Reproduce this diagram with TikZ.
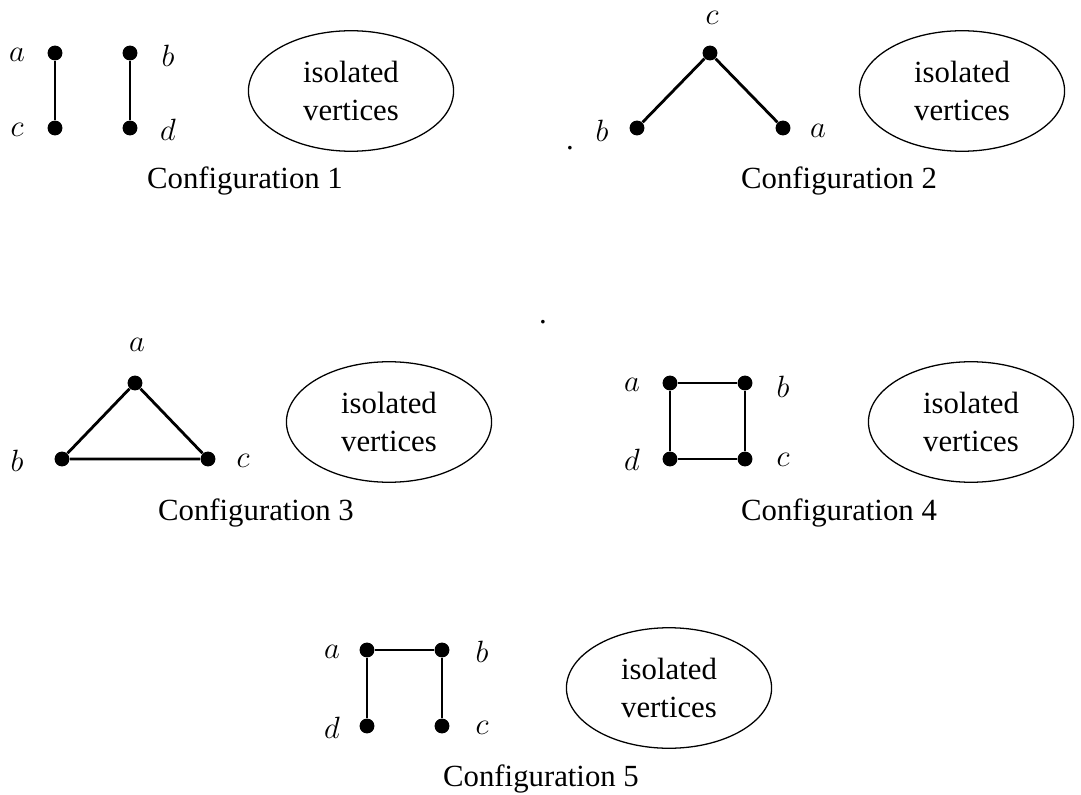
\documentclass[tikz,border=0pt,12pt]{standalone}
\usepackage{fontspec}
\setmainfont{Liberation Serif}
\usetikzlibrary{shapes.geometric}
\begin{document}
\begin{tikzpicture}[x=0.39pt,y=-0.39pt,
 vtx/.style={circle,fill=black,inner sep=0pt,minimum size=5.8pt},
 edge/.style={line width=1.1pt},
 lbl/.style={inner sep=0pt},
 iso/.style={draw,ellipse,line width=0.5pt,align=center,minimum width=80pt,minimum height=47pt,inner sep=0pt},
 captext/.style={anchor=base,inner sep=0pt}]
\useasboundingbox (0,0) rectangle (1081,794);
% Configuration 1
\node[vtx] (a1) at (55,53) {};
\node[vtx] (c1) at (55,128) {};
\node[vtx] (b1) at (130,53) {};
\node[vtx] (d1) at (130,128) {};
\draw[edge] (a1) -- (c1);
\draw[edge] (b1) -- (d1);
\node[lbl] (la1) at (17,55) {$a$};
\node[lbl] (lc1) at (17,130) {$c$};
\node[lbl] (lb1) at (168,56) {$b$};
\node[lbl] (ld1) at (168,130) {$d$};
\node[iso] (e1) at (351,91) {isolated\\vertices};
\node[captext] (cap1) at (245,189) {Configuration 1};
% Configuration 2
\node[vtx] (c2) at (710,53) {};
\node[vtx] (b2) at (637,128) {};
\node[vtx] (a2) at (783,128) {};
\draw[edge] (b2) -- (c2) -- (a2);
\node[lbl] (lc2) at (712,18) {$c$};
\node[lbl] (lb2) at (602,131) {$b$};
\node[lbl] (la2) at (818,131) {$a$};
\node[lbl] (dot2) at (570,148) {.};
\node[iso] (e2) at (962,91) {isolated\\vertices};
\node[captext] (cap2) at (839,189) {Configuration 2};
% middle dot
\node[lbl] (dotm) at (543,322) {.};
% Configuration 3
\node[vtx] (a3) at (135,383) {};
\node[vtx] (b3) at (62,459) {};
\node[vtx] (c3) at (208,459) {};
\draw[edge] (a3) -- (b3) -- (c3) -- (a3);
\node[lbl] (la3) at (137,345) {$a$};
\node[lbl] (lb3) at (17,461) {$b$};
\node[lbl] (lc3) at (243,461) {$c$};
\node[iso] (e3) at (389,422) {isolated\\vertices};
\node[captext] (cap3) at (256,520) {Configuration 3};
% Configuration 4
\node[vtx] (a4) at (670,383) {};
\node[vtx] (b4) at (745,383) {};
\node[vtx] (d4) at (670,459) {};
\node[vtx] (c4) at (745,459) {};
\draw[edge] (a4) -- (b4) -- (c4) -- (d4) -- (a4);
\node[lbl] (la4) at (632,385) {$a$};
\node[lbl] (lb4) at (783,387) {$b$};
\node[lbl] (ld4) at (632,460) {$d$};
\node[lbl] (lc4) at (783,460) {$c$};
\node[iso] (e4) at (971,422) {isolated\\vertices};
\node[captext] (cap4) at (839,520) {Configuration 4};
% Configuration 5
\node[vtx] (a5) at (367,650) {};
\node[vtx] (b5) at (442,650) {};
\node[vtx] (d5) at (367,726) {};
\node[vtx] (c5) at (442,726) {};
\draw[edge] (d5) -- (a5) -- (b5) -- (c5);
\node[lbl] (la5) at (332,652) {$a$};
\node[lbl] (lb5) at (482,652) {$b$};
\node[lbl] (ld5) at (332,728) {$d$};
\node[lbl] (lc5) at (482,728) {$c$};
\node[iso] (e5) at (669,688) {isolated\\vertices};
\node[captext] (cap5) at (541,786) {Configuration 5};
\end{tikzpicture}
\end{document}
